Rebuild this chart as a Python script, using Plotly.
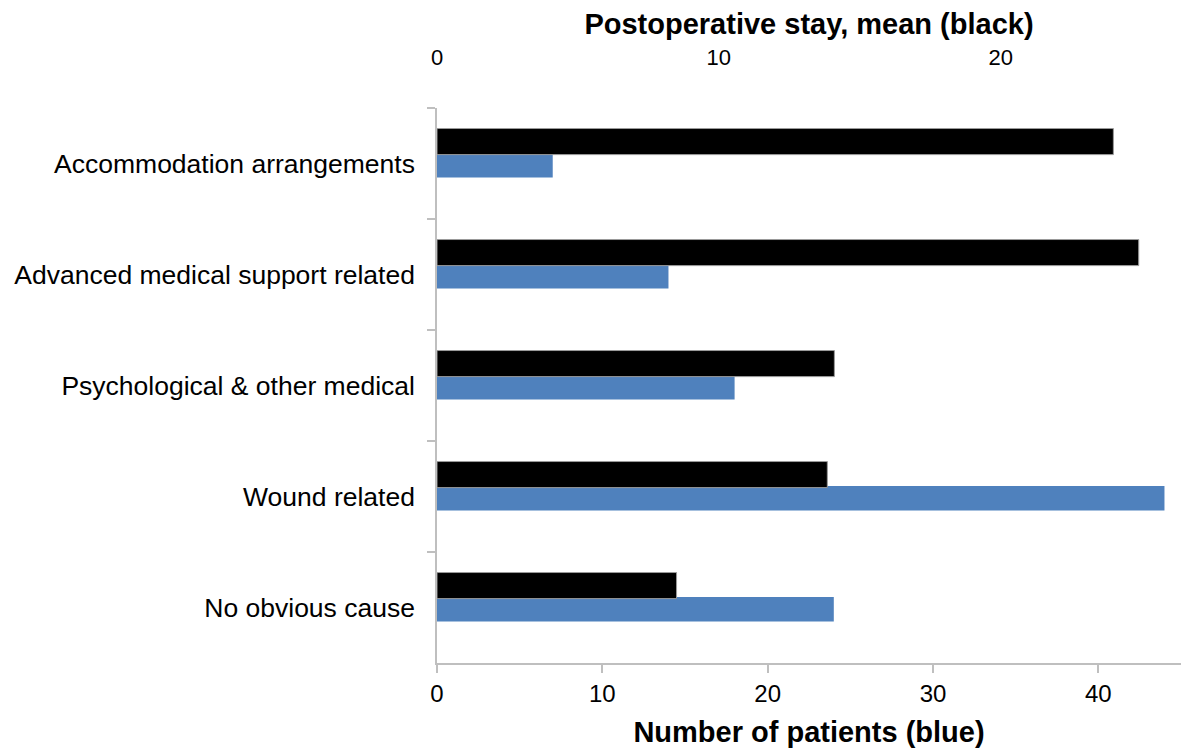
import plotly.graph_objects as go

# categories, top to bottom
categories = [
    "Accommodation arrangements",
    "Advanced medical support related",
    "Psychological & other medical",
    "Wound related",
    "No obvious cause",
]
patients = [7, 14, 18, 44, 24]              # blue, bottom axis
stay_mean = [24.0, 24.9, 14.1, 13.85, 8.5]  # black, top axis

FONT = "Liberation Sans, Arial, sans-serif"
GRAY = "#bfbfbf"

fig = go.Figure()

fig.add_trace(go.Bar(
    y=categories, x=patients, orientation="h",
    xaxis="x", yaxis="y",
    marker=dict(color="#4f81bd", line=dict(width=0)),
    width=0.22, offset=-0.095,
    name="Number of patients",
))

fig.add_trace(go.Bar(
    y=categories, x=stay_mean, orientation="h",
    xaxis="x2", yaxis="y",
    marker=dict(color="#000000", line=dict(color="#9a9a9a", width=1)),
    width=0.235, offset=-0.315,
    name="Postoperative stay, mean",
))

# the page body adds an 8px margin, so the figure is shrunk to fit
fig.update_layout(
    width=1183, height=745,
    margin=dict(l=429, r=10, t=100, b=90),
    plot_bgcolor="white", paper_bgcolor="white",
    barmode="overlay", showlegend=False,
    font=dict(family=FONT, color="#000000"),
    xaxis=dict(
        range=[0, 45], tickvals=[0, 10, 20, 30, 40],
        showgrid=False, zeroline=False, automargin=False,
        showline=True, linecolor=GRAY, linewidth=1.5,
        ticks="outside", ticklen=8, tickcolor=GRAY, tickwidth=1.5,
        tickfont=dict(size=24),
        title=dict(text="<b>Number of patients (blue)</b>", font=dict(size=29), standoff=16),
    ),
    xaxis2=dict(
        overlaying="x", side="top", anchor="y",
        range=[0, 26.4], tickvals=[0, 10, 20],
        showgrid=False, zeroline=False, showline=False, ticks="",
        automargin=False,
        tickfont=dict(size=22),
        ticklabelstandoff=38,
        title=dict(text="<b>Postoperative stay, mean (black)</b>", font=dict(size=29), standoff=8),
    ),
    yaxis=dict(
        autorange="reversed", automargin=False,
        showgrid=False, zeroline=False,
        showline=True, linecolor=GRAY, linewidth=1.5,
        ticks="outside", tickson="boundaries", ticklen=8, tickcolor=GRAY, tickwidth=1.5,
        tickfont=dict(size=26.5),
        ticklabelstandoff=15,
    ),
)

fig.write_html("out.html")
